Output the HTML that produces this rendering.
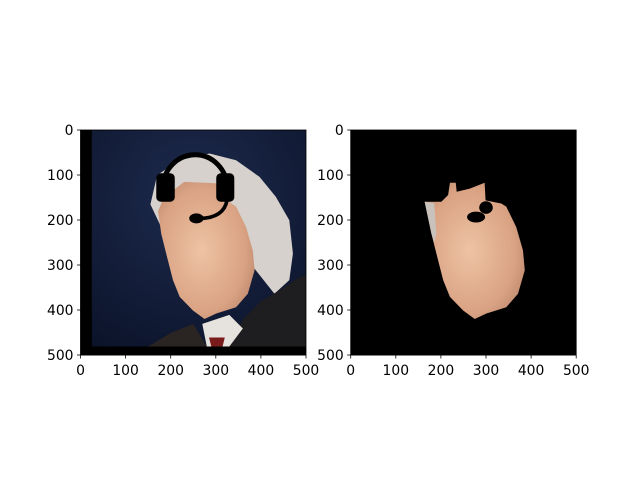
<!DOCTYPE html>
<html><head><meta charset="utf-8"><style>
body{margin:0;background:#fff;}
svg{display:block;font-family:"DejaVu Sans","Liberation Sans",sans-serif;font-size:13.9px;}
</style></head><body>
<svg width="640" height="480" viewBox="0 0 640 480">
<defs>
<radialGradient id="skin" cx="0.45" cy="0.5" r="0.65">
<stop offset="0" stop-color="#eec3a4"/><stop offset="0.7" stop-color="#d9a283"/><stop offset="1" stop-color="#b9846a"/>
</radialGradient>
<radialGradient id="bg" cx="0.5" cy="0.3" r="0.8">
<stop offset="0" stop-color="#1e2b4e"/><stop offset="1" stop-color="#0b1329"/>
</radialGradient>
<clipPath id="c1"><rect x="0" y="0" width="500" height="500"/></clipPath>
</defs>
<g id="left" transform="translate(80.5,130) scale(0.451)" clip-path="url(#c1)">
<rect width="500" height="500" fill="url(#bg)"/>
<rect width="25" height="500" fill="#000"/>
<rect y="480" width="500" height="20" fill="#000"/>
<polygon fill="#d6d1cc" points="155,165 170,100 219,67 286,52 345,67 397,104 433,148 463,200 471,274 463,333 430,363 380,300 200,260"/>
<polygon fill="#1e1e20" points="330,480 360,420 400,380 450,350 480,330 500,320 500,480"/>
<polygon fill="#2a2522" points="150,480 200,450 250,430 280,480"/>
<polygon fill="#e6e2de" points="270,430 330,410 360,440 330,480 280,480"/>
<polygon fill="#7a1c1c" points="285,460 320,460 315,480 290,480"/>
<polygon fill="url(#skin)" points="185,150 230,115 300,118 330,160 345,170 367,215 382,267 386,311 371,363 345,393 301,407 275,419 249,400 220,370 205,333 190,274 179,230 172,180"/>
<g>
<path d="M183,128 A70,72 0 1 1 325,128" fill="none" stroke="#000" stroke-width="11"/>
<rect x="168" y="96" width="41" height="63" rx="10" fill="#000"/>
<rect x="301" y="96" width="40" height="63" rx="10" fill="#000"/>
<path d="M325,155 Q318,195 265,196" fill="none" stroke="#000" stroke-width="8"/>
<ellipse cx="257" cy="196" rx="16" ry="11" fill="#000"/>
</g>
</g>
<g id="right" transform="translate(350.7,130) scale(0.451)" clip-path="url(#c1)">
<rect width="500" height="500" fill="#000"/>
<polygon fill="url(#skin)" points="220,117 233,117 235,137 264,130 297,117 299,156 334,163 345,170 367,215 382,267 386,311 371,363 345,393 301,407 275,419 249,400 220,370 205,333 190,274 179,230 164,159 201,159 216,144"/>
<polygon fill="#c9c2bc" points="164,159 185,162 190,230 185,250 179,230"/>
<ellipse cx="278" cy="193" rx="20" ry="12" fill="#000"/>
<ellipse cx="300" cy="172" rx="15" ry="14" fill="#000"/>
</g>
<g stroke="#000" stroke-width="0.8" fill="none">
<rect x="80.5" y="130" width="225.5" height="225"/>
<rect x="350.7" y="130" width="225.5" height="225"/>
</g>
<g id="ticks"></g>
</svg>
<script>
const tickValues=[0,100,200,300,400,500];
const axes=[{x0:80.5,name:'left'},{x0:350.7,name:'right'}];
const y0=130,size=225.5,svgns='http://www.w3.org/2000/svg';
const g=document.getElementById('ticks');
axes.forEach(a=>{
 tickValues.forEach(v=>{
  const px=a.x0+v/500*size, py=y0+v/500*225;
  let l=document.createElementNS(svgns,'line');
  l.setAttribute('x1',px);l.setAttribute('x2',px);l.setAttribute('y1',355);l.setAttribute('y2',358.5);l.setAttribute('stroke','#000');l.setAttribute('stroke-width','0.8');
  
  
  g.appendChild(l);
  let t=document.createElementNS(svgns,'text');
  t.setAttribute('x',px);t.setAttribute('y',375);t.setAttribute('text-anchor','middle');t.textContent=v;
  
  
  g.appendChild(t);
  let l2=document.createElementNS(svgns,'line');
  l2.setAttribute('x1',a.x0-3.5);l2.setAttribute('x2',a.x0);l2.setAttribute('y1',py);l2.setAttribute('y2',py);l2.setAttribute('stroke','#000');l2.setAttribute('stroke-width','0.8');
  
  
  g.appendChild(l2);
  let t2=document.createElementNS(svgns,'text');
  t2.setAttribute('x',a.x0-7);t2.setAttribute('y',py+5);t2.setAttribute('text-anchor','end');t2.textContent=v;
  
  
  g.appendChild(t2);
 });
});
</script>
</body></html>
